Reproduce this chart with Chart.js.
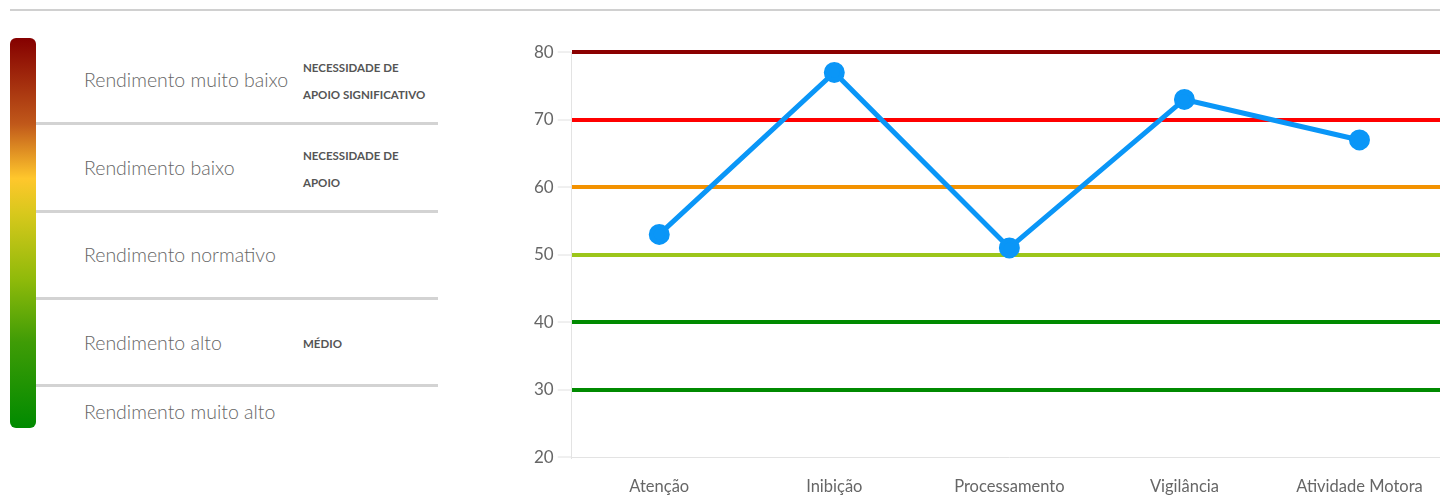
<!DOCTYPE html>
<html>
<head>
<meta charset="utf-8">
<script src="https://cdn.jsdelivr.net/npm/chart.js@4"></script>
<style>
  html, body { margin: 0; padding: 0; background: #fff; overflow: hidden; }
  body { width: 1440px; height: 496px; position: relative; font-family: Lato, "Open Sans", sans-serif; }
  .topline { position: absolute; left: 10px; top: 9px; width: 1430px; height: 2px; background: #d0d0d0; }
  .bar { position: absolute; left: 10px; top: 38px; width: 26px; height: 390px; border-radius: 6px;
    background: linear-gradient(to bottom, #850000 0%, #c0581a 22%, #ffc72c 36%, #d8c81c 45%, #8fba0a 62%, #3f9c06 78%, #008a00 100%); }
  .sep { position: absolute; left: 36px; width: 402px; height: 3px; background: #d3d3d3; }
  .lab { position: absolute; left: 84px; font-size: 19.5px; font-weight: 300; color: #666; line-height: 20px; }
  .note { position: absolute; left: 303px; font-size: 11.5px; font-weight: 700; color: #555; line-height: 27px; }
  #wrap { position: absolute; left: 530px; top: 38px; width: 930px; height: 479px; }
</style>
</head>
<body>
<div class="topline"></div>
<div class="bar"></div>
<div class="sep" style="top:122px"></div>
<div class="sep" style="top:210px"></div>
<div class="sep" style="top:297px"></div>
<div class="sep" style="top:384px"></div>
<div class="lab" style="top:70px">Rendimento muito baixo</div>
<div class="lab" style="top:158px">Rendimento baixo</div>
<div class="lab" style="top:245px">Rendimento normativo</div>
<div class="lab" style="top:333px">Rendimento alto</div>
<div class="lab" style="top:402px">Rendimento muito alto</div>
<div class="note" style="top:54px">NECESSIDADE DE<br>APOIO SIGNIFICATIVO</div>
<div class="note" style="top:142px">NECESSIDADE DE<br>APOIO</div>
<div class="note" style="top:330px">MÉDIO</div>
<div id="wrap"><canvas id="myChart"></canvas></div>
<script>
'use strict'
let categories = ['Atenção', 'Inibição', 'Processamento', 'Vigilância', 'Atividade Motora'];
let scores = [53, 77, 51, 73, 67];
let yTicks = [20, 30, 40, 50, 60, 70, 80];
let bandColors = ['rgba(0,0,0,0)', '#008a00', '#008a00', '#9cc61a', '#f39200', '#ff0000', '#8b0000'];

const data = {
  labels: categories,
  datasets: [{
    label: 'Resultado',
    data: scores,
    borderColor: '#0a96f7',
    backgroundColor: '#0a96f7',
    borderWidth: 5,
    pointRadius: 8,
    pointHoverRadius: 8,
    tension: 0
  }]
};

const config = {
  type: 'line',
  data: data,
  options: {
    responsive: true,
    maintainAspectRatio: false,
    animation: false,
    layout: { padding: { top: 10, right: 0, left: 0, bottom: 0 } },
    plugins: { legend: { display: false }, tooltip: { enabled: false } },
    scales: {
      x: {
        offset: true,
        grid: { display: false, drawTicks: false, offset: true },
        border: { color: '#e3e3e3', width: 1 },
        ticks: { color: '#666', font: { family: 'Lato', size: 16.5 }, padding: 20 }
      },
      y: {
        min: 20,
        max: 80,
        afterBuildTicks: function (axis) {
          axis.ticks = yTicks.map(function (v) { return { value: v }; });
        },
        grid: {
          color: function (ctx) { return bandColors[yTicks.indexOf(ctx.tick.value)]; },
          lineWidth: 4,
          tickColor: '#e0e0e0',
          tickWidth: 1,
          tickLength: 14
        },
        border: { color: '#e3e3e3', width: 1 },
        ticks: { color: '#666', font: { family: 'Lato', size: 17 }, padding: 4 }
      }
    }
  }
};

var myChart = new Chart(document.getElementById('myChart'), config);
</script>
</body>
</html>
